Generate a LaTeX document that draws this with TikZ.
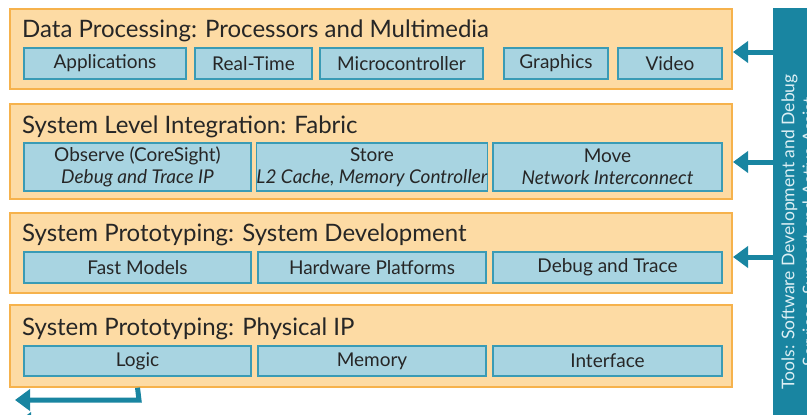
\documentclass[tikz,border=0pt]{standalone}
\usepackage{fontspec}
\setmainfont{Lato}
\usetikzlibrary{arrows.meta}
\definecolor{ofill}{HTML}{FDDBA4}
\definecolor{oline}{HTML}{F6B24C}
\definecolor{ifill}{HTML}{A8D4E1}
\definecolor{iline}{HTML}{3A9BB5}
\definecolor{teal}{HTML}{1985A1}
\definecolor{ink}{HTML}{262626}
\definecolor{paneltext}{HTML}{DCEFF4}
\tikzset{
  obox/.style={draw=oline, fill=ofill, line width=1.5pt, inner sep=0pt},
  ibox/.style={draw=iline, fill=ifill, line width=1.3pt, inner sep=0pt, text=ink, align=center, font=\fontsize{19}{21.5}\selectfont},
  ttl/.style={anchor=base west, inner sep=0pt, text=ink, font=\fontsize{24}{26}\selectfont},
  tarrow/.style={draw=teal, line width=5pt, -{Triangle[width=21pt,length=15pt]}},
}
\begin{document}
\begin{tikzpicture}[x=1pt,y=-1pt]
\useasboundingbox (0,0) rectangle (807,415);
\clip (0,0) rectangle (807,415);
\fill[white] (0,0) rectangle (807,415);
% outer boxes
\node[obox, minimum width=722pt, minimum height=80pt] (b1) at (371,49) {};
\node[obox, minimum width=722pt, minimum height=95pt] (b2) at (371,151.5) {};
\node[obox, minimum width=722pt, minimum height=80pt] (b3) at (371,253) {};
\node[obox, minimum width=722pt, minimum height=82pt] (b4) at (371,346) {};
% titles
\node[ttl] (t1) at (22,37) {Data Processing: Processors and Multimedia};
\node[ttl] (t2) at (22,133) {System Level Integration: Fabric};
\node[ttl] (t3) at (22,241) {System Prototyping: System Development};
\node[ttl] (t4) at (22,335) {System Prototyping: Physical IP};
% row 1
\node[ibox, minimum width=162pt, minimum height=31pt] (app) at (105,63.5) {Applications};
\node[ibox, minimum width=117pt, minimum height=31pt] (rt) at (253.5,63.5) {Real-Time};
\node[ibox, minimum width=163pt, minimum height=31pt] (mc) at (401.5,63.5) {Microcontroller};
\node[ibox, minimum width=104pt, minimum height=31pt] (gr) at (556,63.5) {Graphics};
\node[ibox, minimum width=104pt, minimum height=31pt] (vid) at (670,63.5) {Video};
% row 2
\node[ibox, minimum width=227pt, minimum height=48pt] (obs) at (137.5,167) {Observe (CoreSight)\\\textit{Debug and Trace IP}};
\node[ibox, minimum width=228pt, minimum height=48pt] (sto) at (372,167) {Store\\\textit{L2 Cache, Memory Controller}};
\node[ibox, minimum width=229pt, minimum height=48pt] (mov) at (607.5,167) {Move\\\textit{Network Interconnect}};
% row 3
\node[ibox, minimum width=227pt, minimum height=31pt] (fm) at (137.5,267.5) {Fast Models};
\node[ibox, minimum width=228pt, minimum height=31pt] (hp) at (372,267.5) {Hardware Platforms};
\node[ibox, minimum width=229pt, minimum height=31pt] (dt) at (607.5,267.5) {Debug and Trace};
% row 4
\node[ibox, minimum width=227pt, minimum height=30pt] (lg) at (137.5,361) {Logic};
\node[ibox, minimum width=228pt, minimum height=30pt] (mem) at (372,361) {Memory};
\node[ibox, minimum width=229pt, minimum height=30pt] (ifc) at (607.5,361) {Interface};
% tools panel
\node[fill=teal, minimum width=40pt, minimum height=420pt, inner sep=0pt, anchor=north west] (tools) at (773,8) {};
\node[rotate=90, text=paneltext, align=center, inner sep=0pt, font=\fontsize{17.5}{21}\selectfont] (tt) at (800,232)
  {Tools: Software Development and Debug\\Services, Support and Active Assist};
% arrows from tools
\coordinate (e1) at (733,52);
\coordinate (e2) at (733,162);
\coordinate (e3) at (733,257);
\draw[tarrow] (tools.west |- e1) -- (e1);
\draw[tarrow] (tools.west |- e2) -- (e2);
\draw[tarrow] (tools.west |- e3) -- (e3);
% bottom-left arrows
\coordinate (k1) at (139,400);
\coordinate (o1) at (15,400);
\draw[tarrow] (lg.south |- b4.south) -- (k1) -- (o1);
\coordinate (o2) at (16,423);
\draw[tarrow] (80,423) -- (o2);
\end{tikzpicture}
\end{document}
